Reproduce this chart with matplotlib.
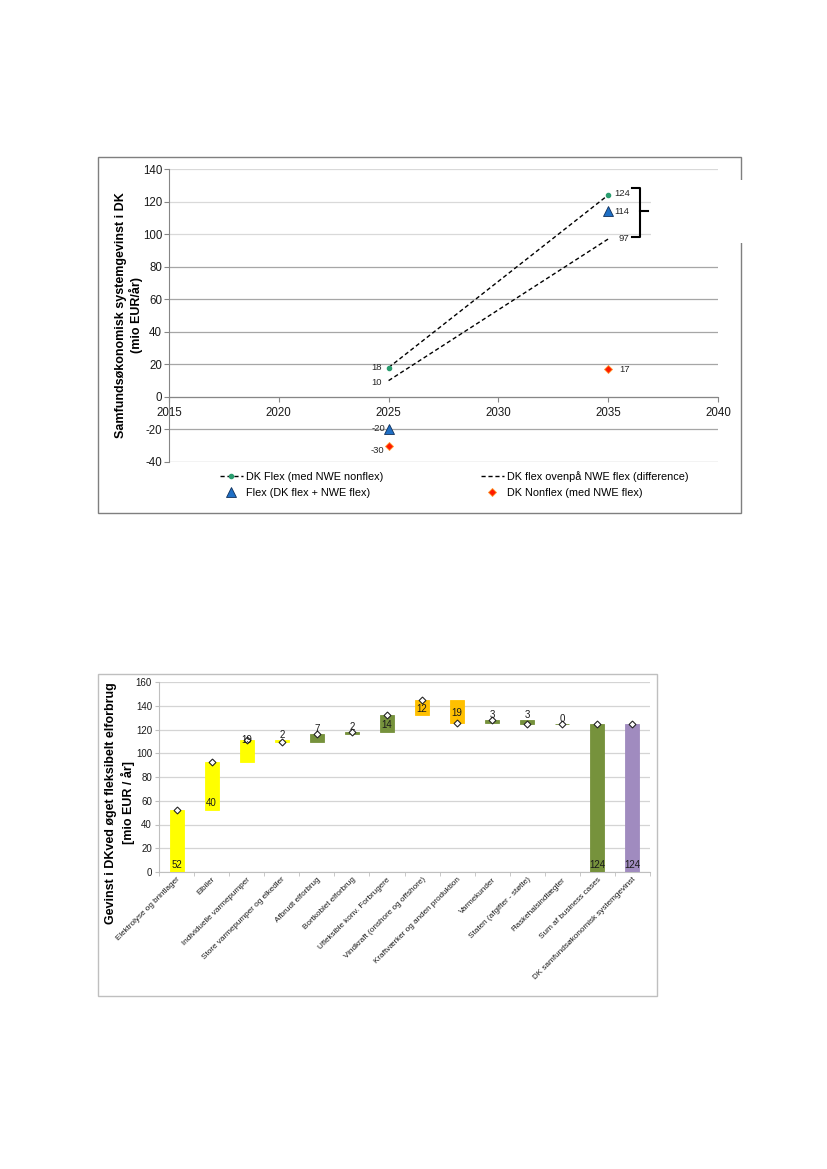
import matplotlib
matplotlib.use("Agg")
import numpy as np
import matplotlib.pyplot as plt
from matplotlib.patches import Rectangle

plt.rcParams['font.family'] = ['Liberation Sans', 'DejaVu Sans']
plt.rcParams['axes.unicode_minus'] = False

# --- top chart data ---
years = [2025, 2035]
dk_flex = [18, 124]          # DK Flex (med NWE nonflex)
dk_flex_diff = [10, 97]      # DK flex ovenpå NWE flex (difference)
flex_total = [-20, 114]      # Flex (DK flex + NWE flex)
dk_nonflex = [-30, 17]       # DK Nonflex (med NWE flex)
top_xticks = [2015, 2020, 2025, 2030, 2035, 2040]
top_yticks = [-40, -20, 0, 20, 40, 60, 80, 100, 120, 140]

# --- bottom chart data ---
categories = [
    'Elektrolyse og brintlager', 'Elbiler', 'Individuelle varmepumper',
    'Store varmepumper og elkedler', 'Afbrudt elforbrug', 'Bortkoblet elforbrug',
    'Ufleksible konv. Forbrugere', 'Vindkraft (onshore og offshore)',
    'Kraftværker og anden produktion', 'Varmekunder', 'Staten (afgifter - støtte)',
    'Flaskehalsindtægter', 'Sum af business cases',
    'DK samfundsøkonomisk systemgevinst',
]
deltas = [52.2, 40.2, 18.8, -1.7, 7.0, 1.6, 14.1, 12.3, -19.3, 2.8, -3.4, 0.0]
totals = [124.4, 124.4]
bottom_yticks = [0, 20, 40, 60, 80, 100, 120, 140, 160]

# styling for the waterfall
YELLOW, GREEN, ORANGE, PURPLE = '#FFFF00', '#76923C', '#FFC000', '#A08BBF'
bar_colors = [YELLOW] * 4 + [GREEN] * 3 + [ORANGE] * 2 + [GREEN] * 4 + [PURPLE]
label_pos = ['base', 'base', 'top', 'above', 'above', 'above', 'center',
             'center', 'center', 'above', 'above', 'above', 'base', 'base']

W, H = 827, 1169
fig = plt.figure(figsize=(W / 100, H / 100), dpi=100)


def fx(px):
    return px / W


def fy(py):
    return 1 - py / H


# ================= top chart =================
ax = fig.add_axes([fx(169), fy(462), fx(718) - fx(169), fy(169) - fy(462)])
ax.set_xlim(2015, 2040)
ax.set_ylim(-40, 140)

ax.plot(years, dk_flex, ls=(0, (3, 2)), color='black', lw=1, marker='o',
        markersize=3, markerfacecolor='#2A9D6F', markeredgecolor='#2A9D6F',
        label='DK Flex (med NWE nonflex)', zorder=4)
ax.plot(years, dk_flex_diff, ls=(0, (3, 2)), color='black', lw=1,
        label='DK flex ovenpå NWE flex (difference)', zorder=4)
ax.plot(years, flex_total, ls='none', marker='^', markersize=6.5,
        markerfacecolor='#1F6FC5', markeredgecolor='#10305A', markeredgewidth=0.6,
        label='Flex (DK flex + NWE flex)', zorder=5)
ax.plot(years, dk_nonflex, ls='none', marker='D', markersize=4.5,
        markerfacecolor='#FF1A00', markeredgecolor='#FF9A30', markeredgewidth=0.6,
        label='DK Nonflex (med NWE flex)', zorder=5)

# data labels (offsets in points for 2025 / 2035)
series = [(dk_flex, [(-8.5, 0), (10, 1)]),
          (dk_flex_diff, [(-8.5, -1.5), (11.5, 0)]),
          (flex_total, [(-7, 1), (10, 0)]),
          (dk_nonflex, [(-8, -3.5), (11.5, 0)])]
for vals, offs in series:
    for x, v, off in zip(years, vals, offs):
        ax.annotate(f'{v}', (x, v), xytext=off, textcoords='offset points',
                    ha='center', va='center', fontsize=6.8, color='#262626')

# bracket grouping the 2035 values
bx0, bx1, bx2 = years[1] + 1.1, years[1] + 1.45, years[1] + 1.8
btop, bbot, bmid = dk_flex[1] + 4.5, dk_flex_diff[1] + 1.3, flex_total[1]
ax.plot([bx0, bx1, bx1, bx0], [btop, btop, bbot, bbot], color='black', lw=1.5,
        clip_on=False, zorder=6, solid_joinstyle='round')
ax.plot([bx1, bx2], [bmid, bmid], color='black', lw=1.5, clip_on=False, zorder=6)

ax.set_xticks(top_xticks)
ax.set_yticks(top_yticks)
ax.spines['top'].set_visible(False)
ax.spines['right'].set_visible(False)
ax.spines['bottom'].set_position(('data', 0))
for s in ('left', 'bottom'):
    ax.spines[s].set_color('#868686')
ax.tick_params(axis='both', labelsize=8.3, colors='#868686', labelcolor='#1A1A1A',
               length=3.5, direction='out')
ax.tick_params(axis='x', pad=3.5)
ax.tick_params(axis='y', pad=1.5)
ax.grid(axis='y', color='#A6A6A6', lw=0.9)
ax.set_axisbelow(True)
for line, t in zip(ax.get_ygridlines(), top_yticks):
    if t >= 100:
        line.set_color('#D9D9D9')

fig.text(fx(129), fy(315), 'Samfundsøkonomisk systemgevinst i DK\n(mio EUR/år)',
         rotation=90, ha='center', va='center', fontsize=9, fontweight='bold',
         multialignment='center', linespacing=1.1)

handles, labels = ax.get_legend_handles_labels()
order = [0, 2, 1, 3]
fig.legend([handles[i] for i in order], [labels[i] for i in order],
           loc='upper left', bbox_to_anchor=(fx(220), fy(471)), ncol=2,
           frameon=False, fontsize=7.8, borderpad=0, borderaxespad=0,
           handlelength=2.1, handletextpad=0.3, labelspacing=0.55,
           columnspacing=9.0)

fig.add_artist(Rectangle((fx(98), fy(513)), fx(741) - fx(98), fy(157) - fy(513),
                         transform=fig.transFigure, fill=False,
                         edgecolor='#7F7F7F', lw=1))
fig.add_artist(Rectangle((fx(651), fy(243)), fx(746) - fx(651), fy(180) - fy(243),
                         transform=fig.transFigure, facecolor='white',
                         edgecolor='none', zorder=3))

# ================= bottom chart =================
bx = fig.add_axes([fx(159), fy(872), fx(650) - fx(159), fy(682) - fy(872)])
x = np.arange(len(categories))
bx.set_xlim(-0.5, len(categories) - 0.5)
bx.set_ylim(0, 160)

cum = np.cumsum(deltas)
starts = np.concatenate([[0], cum[:-1]])
bottoms = list(np.minimum(starts, cum)) + [0] * len(totals)
heights = list(np.abs(deltas)) + list(totals)
ends = list(cum) + list(totals)
values = list(deltas) + list(totals)

bx.bar(x, heights, bottom=bottoms, width=0.4, color=bar_colors,
       edgecolor=bar_colors, lw=0.6, zorder=3)
bx.plot(x, ends, ls='none', marker='D', markersize=3.5, markerfacecolor='white',
        markeredgecolor='#262626', markeredgewidth=0.8, zorder=5)

for xi, b, h, v, pos in zip(x, bottoms, heights, values, label_pos):
    txt = f'{abs(round(v))}'
    if pos == 'base':
        y, off, va = b, (0, 1.5), 'bottom'
    elif pos == 'center':
        y, off, va = b + h / 2, (0, -1), 'center'
    elif pos == 'top':
        y, off, va = b + h, (0, 0), 'center'
    else:
        y, off, va = b + h, (0, 3.5), 'center'
    bx.annotate(txt, (xi, y), xytext=off, textcoords='offset points',
                ha='center', va=va, fontsize=7, color='#1A1A1A', zorder=6)

bx.set_yticks(bottom_yticks)
bx.set_xticks(x)
bx.set_xticklabels(categories, rotation=45, ha='right', rotation_mode='anchor',
                   fontsize=5.9, color='#1A1A1A')
bx.set_xticks(np.arange(-0.5, len(categories)), minor=True)
bx.tick_params(axis='x', which='major', length=0, pad=3)
bx.tick_params(axis='x', which='minor', length=3, color='#BFBFBF')
bx.tick_params(axis='y', labelsize=7, length=3, color='#BFBFBF',
               labelcolor='#1A1A1A', pad=2)
bx.spines['top'].set_visible(False)
bx.spines['right'].set_visible(False)
for s in ('left', 'bottom'):
    bx.spines[s].set_color('#BFBFBF')
bx.grid(axis='y', color='#D4D4D4', lw=0.9)
bx.set_axisbelow(True)

fig.text(fx(120), fy(803), 'Gevinst i DKved øget fleksibelt elforbrug\n[mio EUR / år]',
         rotation=90, ha='center', va='center', fontsize=9, fontweight='bold',
         multialignment='center', linespacing=1.45)

fig.add_artist(Rectangle((fx(98), fy(996)), fx(657) - fx(98), fy(674) - fy(996),
                         transform=fig.transFigure, fill=False,
                         edgecolor='#BFBFBF', lw=1))

fig.savefig('out.png', dpi=100)
